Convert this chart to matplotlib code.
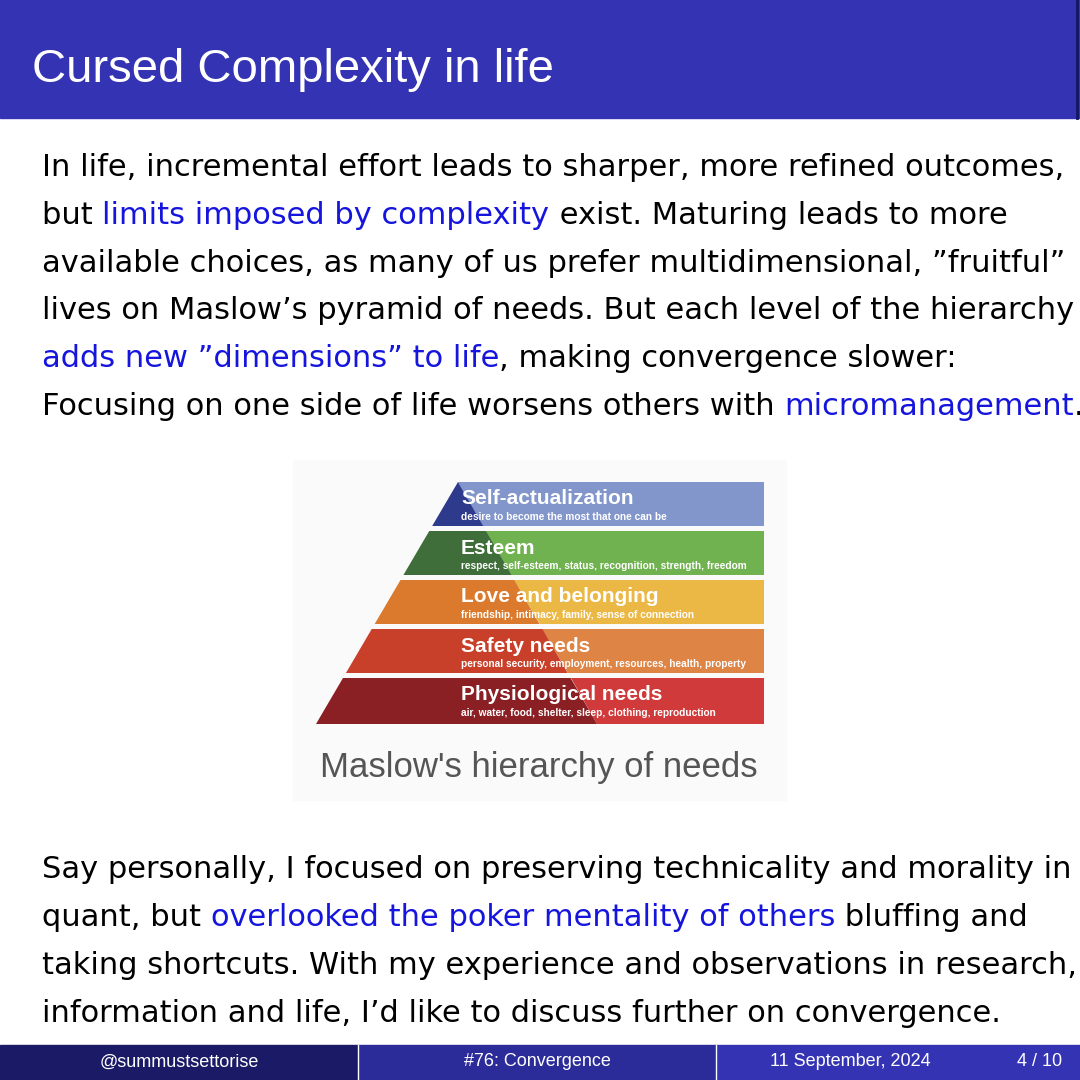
import matplotlib
matplotlib.use("Agg")
from matplotlib import pyplot as plt
from matplotlib.patches import Polygon, Rectangle

plt.rcParams['font.family'] = ['Liberation Sans', 'DejaVu Sans']

title = "Cursed Complexity in life"
BLUE = '#1515dd'

# each paragraph: list of lines, each line a list of (text, is_link)
para1 = [
    [("In life, incremental effort leads to sharper, more refined outcomes,", False)],
    [("but ", False), ("limits imposed by complexity", True), (" exist. Maturing leads to more", False)],
    [("available choices, as many of us prefer multidimensional, \u201dfruitful\u201d", False)],
    [("lives on Maslow\u2019s pyramid of needs. But each level of the hierarchy", False)],
    [("adds new \u201ddimensions\u201d to life", True), (", making convergence slower:", False)],
    [("Focusing on one side of life worsens others with ", False), ("micromanagement", True), (".", False)],
]
para2 = [
    [("Say personally, I focused on preserving technicality and morality in", False)],
    [("quant, but ", False), ("overlooked the poker mentality of others", True), (" bluffing and", False)],
    [("taking shortcuts. With my experience and observations in research,", False)],
    [("information and life, I\u2019d like to discuss further on convergence.", False)],
]

levels = ["Self-actualization", "Esteem", "Love and belonging", "Safety needs", "Physiological needs"]
details = [
    "desire to become the most that one can be",
    "respect, self-esteem, status, recognition, strength, freedom",
    "friendship, intimacy, family, sense of connection",
    "personal security, employment, resources, health, property",
    "air, water, food, shelter, sleep, clothing, reproduction",
]
dark_colors = ['#2e3a8c', '#3f6e3a', '#db7a2c', '#c8402a', '#8a1f24']
light_colors = ['#8296cc', '#6fb24f', '#ecb845', '#de8445', '#d13a3a']
caption = "Maslow's hierarchy of needs"

footer = ["@summustsettorise", "#76: Convergence", "11 September, 2024", "4 / 10"]

fig = plt.figure(figsize=(10.8, 10.8), dpi=100)
ax = fig.add_axes([0, 0, 1, 1])
ax.set_xlim(0, 1080)
ax.set_ylim(1080, 0)
ax.axis('off')

# header
ax.add_patch(Rectangle((0, 0), 1080, 118, color='#3333b3'))
ax.plot([1077, 1077], [0, 118], color='#151560', lw=2)
ax.text(32, 70, title, color='white', fontsize=34, va='center', ha='left')

fig.canvas.draw()
renderer = fig.canvas.get_renderer()


def draw_lines(lines, y0, step):
    for i, line in enumerate(lines):
        x = 42
        y = y0 + i * step
        for txt, link in line:
            t = ax.text(x, y, txt, fontsize=22, color=BLUE if link else 'black',
                        va='baseline', ha='left', family='DejaVu Sans')
            bb = t.get_window_extent(renderer)
            x += bb.width


draw_lines(para1, 176, 47.8)
draw_lines(para2, 878, 48)

# pyramid image
ax.add_patch(Rectangle((293, 460), 493, 340, color='#fafafa', zorder=0))
band_top = 482
band_h = 44
gap = 5
apex_x, base_y, base_left = 458, 724, 316
diag_end = 597


def left_edge(y):
    return apex_x + (base_left - apex_x) * (y - band_top) / (base_y - band_top)


def diag(y):
    return apex_x + (diag_end - apex_x) * (y - band_top) / (base_y - band_top)


for i, name in enumerate(levels):
    top = band_top + i * (band_h + gap)
    bot = top + band_h + (2 if i == len(levels) - 1 else 0)
    ax.add_patch(Polygon([(diag(top), top), (764, top), (764, bot), (diag(bot), bot)],
                         color=light_colors[i], lw=0))
    ax.add_patch(Polygon([(left_edge(top), top), (diag(top), top), (diag(bot), bot), (left_edge(bot), bot)],
                         color=dark_colors[i], lw=0))
    ax.text(461, top + 17, name, color='white', fontsize=15, fontweight='bold', va='center')
    ax.text(461, top + 35, details[i], color='white', fontsize=7.3, fontweight='bold', va='center')

ax.text(539, 767, caption, color='#555555', fontsize=25, ha='center', va='center')

# footer
seg_x = [0, 358, 716, 1080]
seg_c = ['#1a1a66', '#2b2b99', '#3333b3']
for i in range(3):
    ax.add_patch(Rectangle((seg_x[i], 1045), seg_x[i + 1] - seg_x[i], 35, color=seg_c[i]))
    if i > 0:
        ax.plot([seg_x[i], seg_x[i]], [1045, 1080], color='white', lw=1)
ax.text(179, 1062, footer[0], color='white', fontsize=13, ha='center', va='center')
ax.text(537, 1062, footer[1], color='white', fontsize=13, ha='center', va='center')
ax.text(850, 1062, footer[2], color='white', fontsize=13, ha='center', va='center')
ax.text(1040, 1062, footer[3], color='white', fontsize=13, ha='center', va='center')

fig.savefig('out.png', dpi=100)
